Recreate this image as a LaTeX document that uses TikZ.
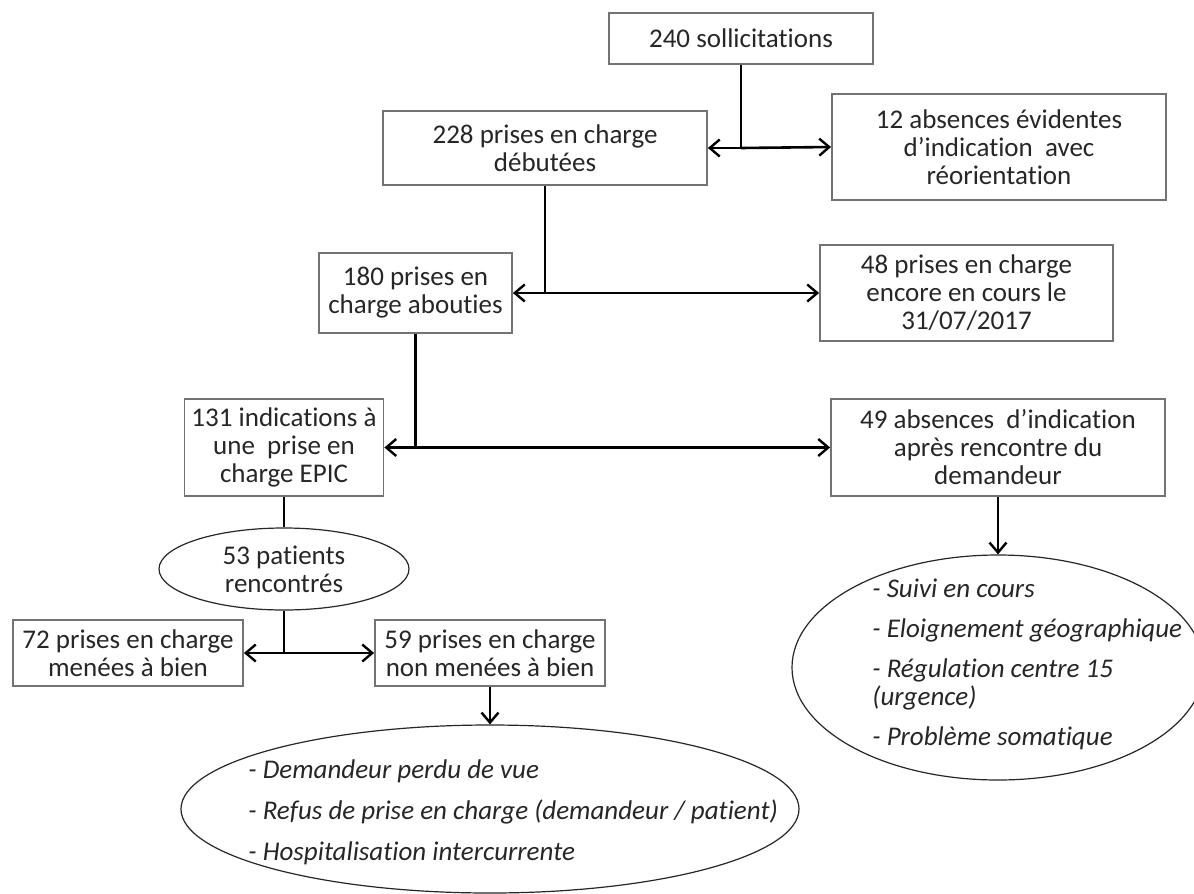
\documentclass[tikz,border=0pt]{standalone}
\usepackage{fontspec}
\setmainfont{Carlito}[Ligatures=NoCommon]
\usetikzlibrary{arrows.meta,shapes.geometric}
\tikzset{
  box/.style={draw=black!55, line width=0.9pt, align=center, inner sep=0pt},
  bulle/.style={draw=black!85, ellipse, line width=0.6pt, inner sep=0pt, align=center},
  trait/.style={line width=1.3pt},
  fleche/.style={trait, -{Straight Barb[length=5pt,width=8.5pt,line width=1.2pt]}},
  liste/.style={anchor=west, align=left, inner sep=0pt, font=\fontsize{13.5}{14}\selectfont\itshape}
}
\begin{document}
\begin{tikzpicture}[x=0.5pt,y=-0.5pt,font=\fontsize{13.5}{14}\selectfont,text=black!85]
\useasboundingbox (0,0) rectangle (1194,894);
%\draw[help lines,step=50] (0,0) grid (1194,894);

% boites
\node[box, minimum width=132pt, minimum height=25.5pt] (sol) at (741,38.5) {240 sollicitations};
\node[box, minimum width=162pt, minimum height=37pt] (deb) at (545,148) {228 prises en charge\\débutées};
\node[box, minimum width=167pt, minimum height=53pt] (abs12) at (999,147) {12 absences évidentes\\d’indication\ \ avec\\réorientation};
\node[box, minimum width=96.5pt, minimum height=40pt] (abo) at (415.5,293) {180 prises en\\charge abouties};
\node[box, minimum width=146.5pt, minimum height=48pt] (cours) at (966.5,293) {48 prises en charge\\encore en cours le\\31/07/2017};
\node[box, minimum width=99.5pt, minimum height=48.5pt] (epic) at (284,447.5) {131 indications à\\une\ \ prise en\\charge EPIC};
\node[box, minimum width=167pt, minimum height=48.5pt] (abs49) at (998,447.5) {49 absences\ \ d’indication\\après rencontre du\\demandeur};
\node[bulle, minimum width=125pt, minimum height=41pt] (pat) at (284,569) {53 patients\\rencontrés};
\node[box, minimum width=115pt, minimum height=33pt] (bien) at (128,653) {72 prises en charge\\menées à bien};
\node[box, minimum width=115pt, minimum height=33pt] (nonbien) at (490,653) {59 prises en charge\\non menées à bien};

% bulles des motifs
\node[bulle, minimum width=309pt, minimum height=84pt] (motifsA) at (490,809) {};
\node[liste] (motifsAtxt) at (248,812) {- Demandeur perdu de vue\\[6.5pt]- Refus de prise en charge (demandeur / patient)\\[6.5pt]- Hospitalisation intercurrente};
\node[bulle, minimum width=206pt, minimum height=112.5pt] (motifsB) at (998,667.5) {};
\node[liste] (motifsBtxt) at (872,664) {- Suivi en cours\\[6pt]- Eloignement géographique\\[6pt]- Régulation centre 15\\(urgence)\\[6pt]- Problème somatique};

% liaisons
\coordinate (j1) at (sol.south |- deb.east);
\draw[trait] (sol.south) -- (j1);
\draw[fleche] (j1) -- (deb.east);
\draw[fleche] (j1) -- (abs12.west);

\coordinate (j2) at (deb.south |- abo.east);
\draw[trait] (deb.south) -- (j2);
\draw[fleche] (j2) -- (abo.east);
\draw[fleche] (j2) -- (cours.west);

\coordinate (j3) at (abo.south |- epic.east);
\draw[trait] (abo.south) -- (j3);
\draw[fleche] (j3) -- (epic.east);
\draw[fleche] (j3) -- (abs49.west);

\draw[trait] (epic.south) -- (pat.north);
\coordinate (j4) at (pat.south |- bien.east);
\draw[trait] (pat.south) -- (j4);
\draw[fleche] (j4) -- (bien.east);
\draw[fleche] (j4) -- (nonbien.west);

\draw[fleche] (nonbien.south) -- (motifsA.north);
\draw[fleche] (abs49.south) -- (motifsB.north);
\end{tikzpicture}
\end{document}
